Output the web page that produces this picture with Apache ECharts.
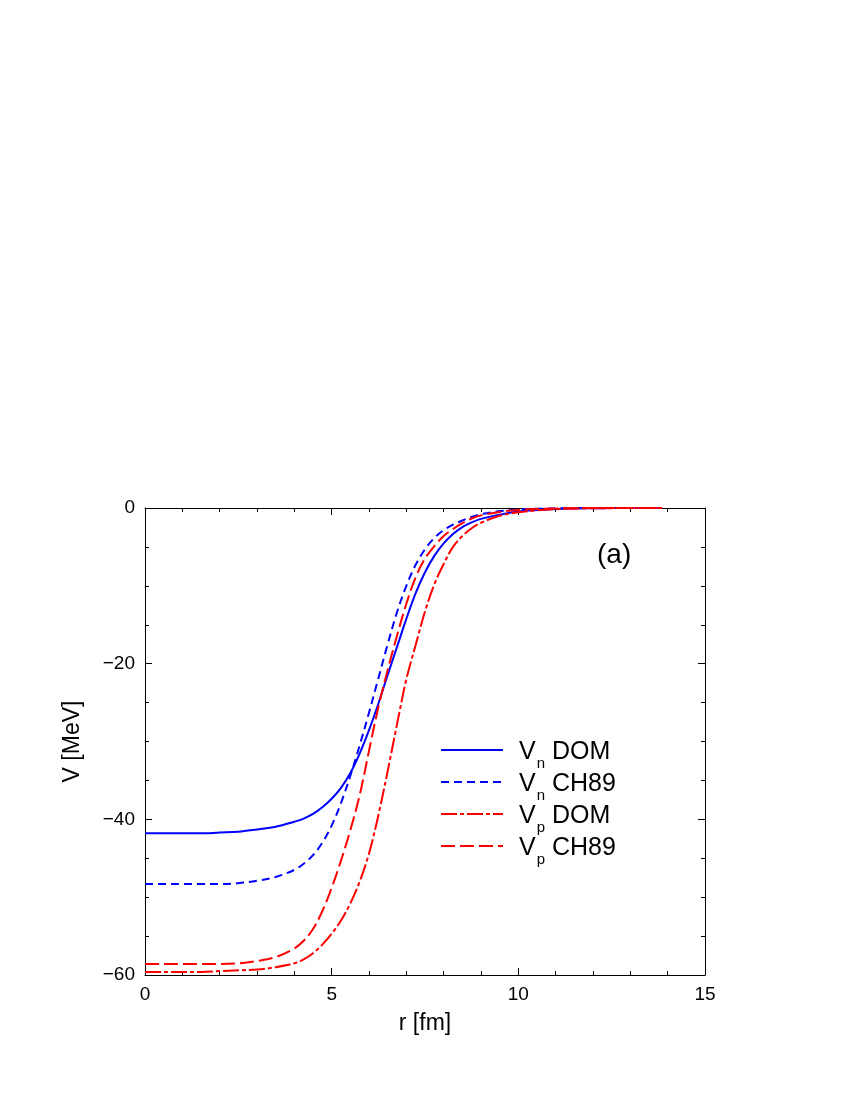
<!DOCTYPE html>
<html>
<head>
<meta charset="utf-8">
<title>V(r)</title>
<script src="https://cdn.jsdelivr.net/npm/echarts@6/dist/echarts.min.js"></script>
<style>
  html, body { margin: 0; padding: 0; background: #fff; }
  #chart { width: 850px; height: 1100px; }
</style>
</head>
<body>
<div id="chart"></div>
<script>
// radius grid [fm]
var rGrid = [0, 0.5, 1, 1.5, 2, 2.5, 3, 3.5, 4, 4.25, 4.5, 4.75, 5, 5.25, 5.5, 5.75, 6, 6.25, 6.5, 6.75,
  7, 7.25, 7.5, 7.75, 8, 8.25, 8.5, 8.75, 9, 9.5, 10, 10.5, 11, 11.5, 12, 12.5, 13, 13.5, 13.85];

// potentials [MeV]
var vnDOM = [-41.8, -41.8, -41.8, -41.8, -41.7, -41.6, -41.3, -40.95, -40.3, -39.9, -39.3, -38.45, -37.35, -35.95, -34.05, -31.55, -28.55, -25.15, -21.45, -17.85,
  -14.25, -10.95, -8.25, -6.15, -4.55, -3.35, -2.45, -1.85, -1.4, -0.85, -0.45, -0.25, -0.12, -0.06, -0.03, -0.01, 0, 0, 0];
var vnCH89 = [-48.3, -48.3, -48.3, -48.3, -48.3, -48.2, -47.9, -47.4, -46.5, -45.7, -44.6, -43.0, -40.8, -37.9, -34.4, -30.5, -26.3, -21.9, -17.5, -13.4,
  -10.0, -7.3, -5.3, -3.85, -2.85, -2.15, -1.6, -1.15, -0.8, -0.4, -0.2, -0.1, -0.05, -0.02, 0, 0, 0, 0, 0];
var vpDOM = [-59.6, -59.6, -59.6, -59.6, -59.5, -59.4, -59.3, -59.0, -58.5, -58.0, -57.2, -56.1, -54.7, -53.0, -50.8, -48.0, -44.4, -39.5, -33.8, -27.8,
  -22.0, -17.6, -13.3, -9.8, -7.2, -5.0, -3.6, -2.6, -1.9, -1.0, -0.55, -0.3, -0.15, -0.08, -0.04, -0.02, 0, 0, 0];
var vpCH89 = [-58.6, -58.6, -58.6, -58.6, -58.6, -58.5, -58.2, -57.7, -56.6, -55.6, -54.1, -51.8, -48.8, -45.3, -41.4, -36.9, -31.2, -25.6, -20.8, -16.4,
  -12.3, -8.9, -6.5, -4.9, -3.6, -2.7, -1.95, -1.35, -0.95, -0.5, -0.25, -0.12, -0.06, -0.03, 0, 0, 0, 0, 0];

var seriesNames = ['Vn DOM', 'Vn CH89', 'Vp DOM', 'Vp CH89'];

function pairs(ys) {
  return rGrid.map(function (r, i) { return [r, ys[i]]; });
}

var font = '"Liberation Sans", Arial, Helvetica, sans-serif';
var minus = function (v) { return String(v).replace('-', '\u2212'); };

var chart = echarts.init(document.getElementById('chart'), null, { renderer: 'canvas' });

var axisBase = {
  min: 0, max: 15, interval: 5,
  axisLine: { onZero: false, lineStyle: { color: '#000', width: 1 } },
  axisTick: { inside: true, length: 7, lineStyle: { color: '#000' } },
  minorTick: { show: true, splitNumber: 5, length: 4, lineStyle: { color: '#000' } },
  splitLine: { show: false }
};

chart.setOption({
  backgroundColor: '#fff',
  animation: false,
  title: {
    text: '(a)', left: 597, top: 541, padding: 0,
    textStyle: { fontFamily: font, fontSize: 28, fontWeight: 'normal', color: '#000' }
  },
  grid: { left: 145, top: 508, width: 560, height: 467 },
  legend: {
    data: seriesNames,
    orient: 'vertical',
    left: 440, top: 735, padding: 0,
    itemWidth: 62, itemHeight: 14, itemGap: -4,
    itemStyle: { opacity: 0 },
    formatter: function (name) {
      var p = name.split(' ');
      return '{v|V}{s|' + p[0].charAt(1) + '}{t| ' + p[1] + '}';
    },
    textStyle: {
      fontFamily: font, color: '#000',
      rich: {
        v: { fontFamily: font, fontSize: 25, lineHeight: 30, padding: [0, 0, 0, 11], verticalAlign: 'bottom' },
        s: { fontFamily: font, fontSize: 15, lineHeight: 17, padding: [21, 0, 0, 1], verticalAlign: 'top' },
        t: { fontFamily: font, fontSize: 25, lineHeight: 30, verticalAlign: 'bottom' }
      }
    }
  },
  xAxis: [
    Object.assign({}, axisBase, {
      type: 'value', position: 'bottom',
      name: 'r [fm]', nameLocation: 'middle', nameGap: 37,
      nameTextStyle: { fontFamily: font, fontSize: 23, color: '#000' },
      axisLabel: { margin: 10, fontFamily: font, fontSize: 19, color: '#000' }
    }),
    Object.assign({}, axisBase, {
      type: 'value', position: 'top', gridIndex: 0,
      axisLabel: { show: false }
    })
  ],
  yAxis: [
    Object.assign({}, axisBase, {
      type: 'value', position: 'left', min: -60, max: 0, interval: 20,
      minorTick: { show: true, splitNumber: 4, length: 4, lineStyle: { color: '#000' } },
      name: 'V [MeV]', nameLocation: 'middle', nameGap: 61, nameRotate: 90,
      nameTextStyle: { fontFamily: font, fontSize: 23, color: '#000' },
      axisLabel: { margin: 10, fontFamily: font, fontSize: 19, color: '#000', formatter: minus }
    }),
    Object.assign({}, axisBase, {
      type: 'value', position: 'right', min: -60, max: 0, interval: 20,
      minorTick: { show: true, splitNumber: 4, length: 4, lineStyle: { color: '#000' } },
      axisLabel: { show: false }
    })
  ],
  series: [
    { name: seriesNames[0], type: 'line', data: pairs(vnDOM), symbol: 'none', smooth: 0.35,
      lineStyle: { color: '#0000ff', width: 2, type: 'solid' }, itemStyle: { color: '#0000ff' } },
    { name: seriesNames[1], type: 'line', data: pairs(vnCH89), symbol: 'none', smooth: 0.35,
      lineStyle: { color: '#0000ff', width: 2, type: [8, 5] }, itemStyle: { color: '#0000ff' } },
    { name: seriesNames[2], type: 'line', data: pairs(vpDOM), symbol: 'none', smooth: 0.35,
      lineStyle: { color: '#ff0000', width: 2, type: [16, 3, 4, 3] }, itemStyle: { color: '#ff0000' } },
    { name: seriesNames[3], type: 'line', data: pairs(vpCH89), symbol: 'none', smooth: 0.35,
      lineStyle: { color: '#ff0000', width: 2, type: [14, 5] }, itemStyle: { color: '#ff0000' } }
  ]
});
</script>
</body>
</html>
